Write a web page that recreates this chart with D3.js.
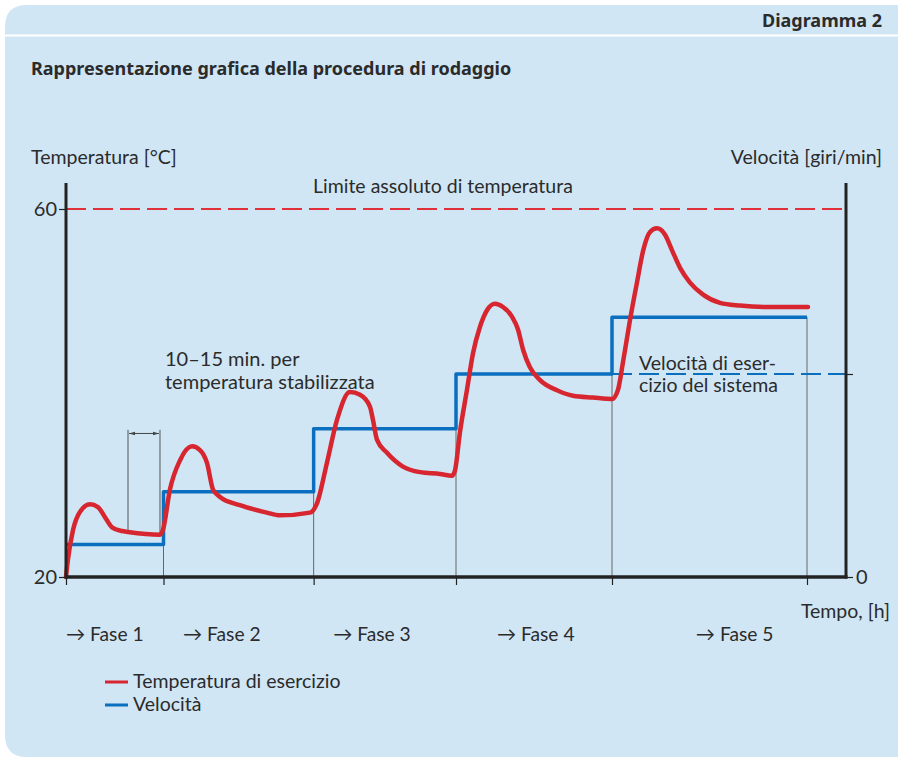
<!DOCTYPE html>
<html>
<head>
<meta charset="utf-8">
<script src="https://cdn.jsdelivr.net/npm/d3@7"></script>
<style>
  body { margin: 0; background: #fff; }
  text { font-family: Lato, "Noto Sans", sans-serif; fill: #2b2b2b; }
  .bold { font-family: "Noto Sans", sans-serif; font-weight: 700; }
</style>
</head>
<body>
<svg id="plot"></svg>
<script>
// temperature curve (time [h], temperature [°C])
const tempTimes = [0, 0.1, 0.36, 0.72, 1.23, 1.64, 2.0, 2.36, 2.87, 3.18, 4.82,
  4.97, 5.33, 5.85, 6.46, 6.87, 7.23, 7.54, 7.9, 8.92, 10.3, 10.97, 12.51,
  12.87, 13.38, 13.9, 14.56, 15.08, 15.59, 15.74, 15.95, 16.46, 17.28, 18.15, 19.18, 19.79,
  19.95, 20.2, 20.56, 20.87, 21.23, 21.59, 22.0, 22.41, 22.87, 23.18, 23.44, 23.79, 24.31, 25.18, 26.0, 27.03, 28.0,
  28.3, 28.56, 28.92, 29.28, 29.6, 29.95, 30.3, 30.72, 31.08, 31.49, 32.0, 32.67, 33.54, 34.56, 35.95, 38.05];
const tempValues = [20, 21.9, 25.1, 27.1, 27.9, 27.6, 26.5, 25.4, 25.0, 24.9, 24.6,
  25.1, 29.5, 32.7, 34.2, 33.8, 32.4, 29.5, 28.7, 27.8, 27.0, 26.7, 27.0,
  28.0, 32.4, 37.1, 40.1, 39.8, 38.5, 37.1, 34.9, 33.5, 32.0, 31.4, 31.2, 31.0,
  31.6, 35.7, 40.3, 44.3, 47.2, 49.0, 49.7, 49.35, 48.3, 46.9, 44.7, 42.8, 41.4, 40.3, 39.7, 39.5, 39.35,
  40.3, 43.3, 47.9, 52.0, 55.5, 57.5, 57.9, 57.2, 55.5, 53.6, 52.0, 50.7, 49.8, 49.5, 49.35, 49.35];

// speed steps (% of operating speed), one per phase
const stepTimes = [0, 5, 12.7, 20, 28, 38];
const stepSpeeds = [16, 42, 73, 100, 128];
const operatingSpeed = 100;
const tempLimit = 60;

const phaseLabels = ["→ Fase 1", "→ Fase 2", "→ Fase 3", "→ Fase 4", "→ Fase 5"];
const phaseLabelTimes = [0, 6, 13.7, 22.1, 32.3];
const tempTicks = [20, 60];

// bracket marking the stabilisation interval
const bracketTimes = [3.18, 4.82];
const bracketTop = 36;
const bracketArrow = 35.6;

const W = 898, H = 759;
const svg = d3.select("#plot").attr("width", W).attr("height", H);

const red = "#d7262f", blue = "#0a6fbf", ink = "#222";

// card
const cx = 5, cy = 5, r = 22;
svg.append("path")
  .attr("d", `M${W},${cy} H${cx + r} Q${cx},${cy} ${cx},${cy + r} V${H - 2 - r} Q${cx},${H - 2} ${cx + r},${H - 2} H${W} Z`)
  .attr("fill", "#d0e6f5");
svg.append("line").attr("x1", cx).attr("x2", W).attr("y1", 35.5).attr("y2", 35.5)
  .attr("stroke", "#fff").attr("stroke-width", 2);

svg.append("text").attr("class", "bold").attr("x", 882).attr("y", 27).attr("text-anchor", "end")
  .style("font-size", "18px").text("Diagramma 2");
svg.append("text").attr("class", "bold").attr("x", 31).attr("y", 75)
  .style("font-size", "18px")
  .text("Rappresentazione grafica della procedura di rodaggio");

const pL = 66, pR = 846, pB = 577, pT = 183;

const x = d3.scaleLinear().domain([0, 40]).range([pL, pR]);
const yT = d3.scaleLinear().domain([20, 60]).range([pB, 209]);
const yS = d3.scaleLinear().domain([0, operatingSpeed]).range([pB, 374]);

const g = svg.append("g");

// drop lines at the phase changes
const drops = stepTimes.slice(1).map((t, i) => ({ t, s: stepSpeeds[i] }));
g.selectAll(".drop").data(drops).join("line")
  .attr("x1", d => x(d.t)).attr("x2", d => x(d.t))
  .attr("y1", d => yS(d.s)).attr("y2", pB)
  .attr("stroke", "#666").attr("stroke-width", 1);

// bracket
bracketTimes.forEach(t => {
  const i = d3.bisectLeft(tempTimes, t);
  g.append("line").attr("x1", x(t)).attr("x2", x(t))
    .attr("y1", yT(bracketTop)).attr("y2", yT(tempValues[i]))
    .attr("stroke", "#555").attr("stroke-width", 1);
});
svg.append("defs").append("marker").attr("id", "ah")
  .attr("viewBox", "0 0 10 10").attr("refX", 10).attr("refY", 5)
  .attr("markerWidth", 6).attr("markerHeight", 6).attr("orient", "auto-start-reverse")
  .append("path").attr("d", "M0,2 L10,5 L0,8 Z").attr("fill", "#444");
g.append("line")
  .attr("x1", x(bracketTimes[0]) + 1).attr("x2", x(bracketTimes[1]) - 1)
  .attr("y1", yT(bracketArrow)).attr("y2", yT(bracketArrow))
  .attr("stroke", "#444").attr("stroke-width", 1)
  .attr("marker-start", "url(#ah)").attr("marker-end", "url(#ah)");

// temperature limit
g.append("line").attr("x1", x(0)).attr("x2", x(40))
  .attr("y1", yT(tempLimit)).attr("y2", yT(tempLimit))
  .attr("stroke", "#e0303a").attr("stroke-width", 2).attr("stroke-dasharray", "20,7");
svg.append("text").attr("x", 313).attr("y", 193).style("font-size", "19.5px")
  .text("Limite assoluto di temperatura");

// operating speed
g.append("line").attr("x1", x(stepTimes[4])).attr("x2", x(40))
  .attr("y1", yS(operatingSpeed)).attr("y2", yS(operatingSpeed))
  .attr("stroke", blue).attr("stroke-width", 2).attr("stroke-dasharray", "20,7");

// speed steps
const stepPts = stepTimes.map((t, i) => [t, stepSpeeds[Math.min(i, stepSpeeds.length - 1)]]);
g.append("path").datum(stepPts)
  .attr("d", d3.line().x(d => x(d[0])).y(d => yS(d[1])).curve(d3.curveStepAfter))
  .attr("fill", "none").attr("stroke", blue).attr("stroke-width", 3.5)
  .attr("stroke-linejoin", "round");

// temperature
const tempPts = tempTimes.map((t, i) => [t, tempValues[i]]);
g.append("path").datum(tempPts)
  .attr("d", d3.line().x(d => x(d[0])).y(d => yT(d[1])).curve(d3.curveMonotoneX))
  .attr("fill", "none").attr("stroke", red).attr("stroke-width", 4.5)
  .attr("stroke-linejoin", "round").attr("stroke-linecap", "round");

// axes
const axL = svg.append("g").attr("transform", `translate(${pL},0)`)
  .call(d3.axisLeft(yT).tickValues(tempTicks).tickSize(7).tickPadding(2).tickFormat(d3.format("d")));
const axR = svg.append("g").attr("transform", `translate(${pR},0)`)
  .call(d3.axisRight(yS).tickValues([0, operatingSpeed]).tickSize(7).tickPadding(3)
    .tickFormat(d => d === 0 ? "0" : ""));
const axB = svg.append("g").attr("transform", `translate(0,${pB})`)
  .call(d3.axisBottom(x).tickValues(stepTimes).tickSize(8).tickFormat(""));
[axL, axR, axB].forEach(a => {
  a.select(".domain").remove();
  a.selectAll(".tick line").attr("stroke", ink).attr("stroke-width", 1.2);
  a.selectAll(".tick text").style("font-size", "20px").attr("fill", "#2b2b2b")
    .style("font-family", "Lato, sans-serif");
});
axL.selectAll(".tick text").attr("dy", "0.34em");
axR.selectAll(".tick text").attr("dy", "0.34em");
svg.append("line").attr("x1", pL).attr("x2", pL).attr("y1", pT).attr("y2", pB + 1.5)
  .attr("stroke", ink).attr("stroke-width", 3);
svg.append("line").attr("x1", pR).attr("x2", pR).attr("y1", pT).attr("y2", pB + 1.5)
  .attr("stroke", ink).attr("stroke-width", 3);
svg.append("line").attr("x1", pL).attr("x2", pR + 1.5).attr("y1", pB).attr("y2", pB)
  .attr("stroke", ink).attr("stroke-width", 3.5);

// axis titles
svg.append("text").attr("x", 31).attr("y", 164).style("font-size", "19.5px").text("Temperatura [°C]");
svg.append("text").attr("x", 882).attr("y", 164).attr("text-anchor", "end")
  .style("font-size", "19.5px").text("Velocità [giri/min]");
svg.append("text").attr("x", 890).attr("y", 618).attr("text-anchor", "end")
  .style("font-size", "19.5px").text("Tempo, [h]");

// phases
svg.selectAll(".phase").data(phaseLabels).join("text")
  .attr("x", (d, i) => x(phaseLabelTimes[i])).attr("y", 641)
  .style("font-size", "19.2px").text(d => d);

// annotations
const ann1 = svg.append("text").attr("x", 165).attr("y", 366).style("font-size", "20px");
ann1.append("tspan").text("10–15 min. per");
ann1.append("tspan").attr("x", 165).attr("dy", 23).text("temperatura stabilizzata");
const ann2 = svg.append("text").attr("x", 639).attr("y", 370).style("font-size", "19.5px");
ann2.append("tspan").text("Velocità di eser-");
ann2.append("tspan").attr("x", 639).attr("dy", 22).text("cizio del sistema");

// legend
const legend = [{ label: "Temperatura di esercizio", color: red }, { label: "Velocità", color: blue }];
const lg = svg.selectAll(".lg").data(legend).join("g")
  .attr("transform", (d, i) => `translate(105,${682 + i * 23})`);
lg.append("line").attr("x1", 0).attr("x2", 23).attr("stroke", d => d.color).attr("stroke-width", 3);
lg.append("text").attr("x", 28).attr("y", 6).style("font-size", "19.5px").text(d => d.label);
</script>
</body>
</html>
